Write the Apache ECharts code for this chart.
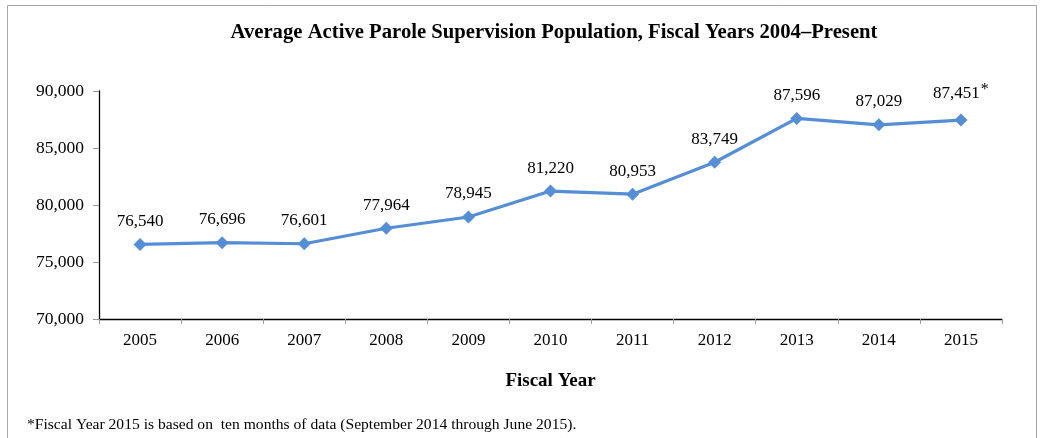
<!DOCTYPE html>
<html>
<head>
<meta charset="utf-8">
<script src="https://cdn.jsdelivr.net/npm/echarts@6/dist/echarts.min.js"></script>
<style>
html,body{margin:0;padding:0;background:#fff;}
#chart{width:1044px;height:438px;}
</style>
</head>
<body>
<div id="chart"></div>
<script>
const years = ['2005','2006','2007','2008','2009','2010','2011','2012','2013','2014','2015'];
const population = [76540, 76696, 76601, 77964, 78945, 81220, 80953, 83749, 87596, 87029, 87451];
const yTicks = [70000, 75000, 80000, 85000, 90000];
const titleText = 'Average Active Parole Supervision Population, Fiscal Years 2004\u2013Present';
const xAxisTitle = 'Fiscal Year';
const footnote = '*Fiscal Year 2015 is based on  ten months of data (September 2014 through June 2015).';
const starredIndex = 10;

const fmt = v => v.toLocaleString('en-US');
const serif = '"Liberation Serif", "Times New Roman", serif';

const chart = echarts.init(document.getElementById('chart'));
chart.setOption({
  animation: false,
  backgroundColor: '#fff',
  textStyle: { fontFamily: serif },
  title: {
    text: titleText,
    left: 549, textAlign: 'center', top: 17,
    textStyle: { fontFamily: serif, fontSize: 20.7, fontWeight: 'bold', color: '#000' }
  },
  graphic: [
    { type: 'rect', shape: { x: 7.5, y: 5.5, width: 1029, height: 440 },
      style: { fill: 'none', stroke: '#a6a6a6', lineWidth: 1 }, silent: true },
    { type: 'text', left: 27, top: 417,
      style: { text: footnote, font: '15.6px ' + serif, fill: '#000' } }
  ],
  grid: { left: 99, right: 42, top: 91, bottom: 119, containLabel: false },
  xAxis: {
    type: 'category',
    data: years,
    boundaryGap: true,
    name: xAxisTitle,
    nameLocation: 'middle',
    nameGap: 53,
    nameTextStyle: { fontFamily: serif, fontSize: 19, fontWeight: 'bold', color: '#000' },
    axisLine: { lineStyle: { color: '#000', width: 1.3 } },
    axisTick: { show: true, length: 5, lineStyle: { color: '#999' }, alignWithLabel: false },
    axisLabel: { fontFamily: serif, fontSize: 17, color: '#000', margin: 13 }
  },
  yAxis: {
    type: 'value',
    min: yTicks[0], max: yTicks[yTicks.length - 1], interval: 5000,
    axisLine: { show: true, lineStyle: { color: '#000', width: 1.3 } },
    axisTick: { show: true, length: 6, lineStyle: { color: '#999' } },
    splitLine: { show: false },
    axisLabel: { fontFamily: serif, fontSize: 17.5, color: '#000', margin: 15, formatter: v => fmt(v) }
  },
  series: [{
    type: 'line',
    data: population,
    symbol: 'diamond',
    symbolSize: 13,
    lineStyle: { color: '#558ED5', width: 3.2 },
    itemStyle: { color: '#558ED5' },
    label: {
      show: true,
      position: 'top',
      distance: 8,
      fontFamily: serif, fontSize: 17, color: '#000',
      formatter: p => p.dataIndex === starredIndex ? '{a|' + fmt(p.value) + '}{s|*}' : fmt(p.value),
      rich: {
        a: { fontFamily: serif, fontSize: 17, color: '#000' },
        s: { fontFamily: serif, fontSize: 16, color: '#000', verticalAlign: 'top', padding: [0, 0, 8, 1] }
      }
    }
  }]
});
</script>
</body>
</html>
